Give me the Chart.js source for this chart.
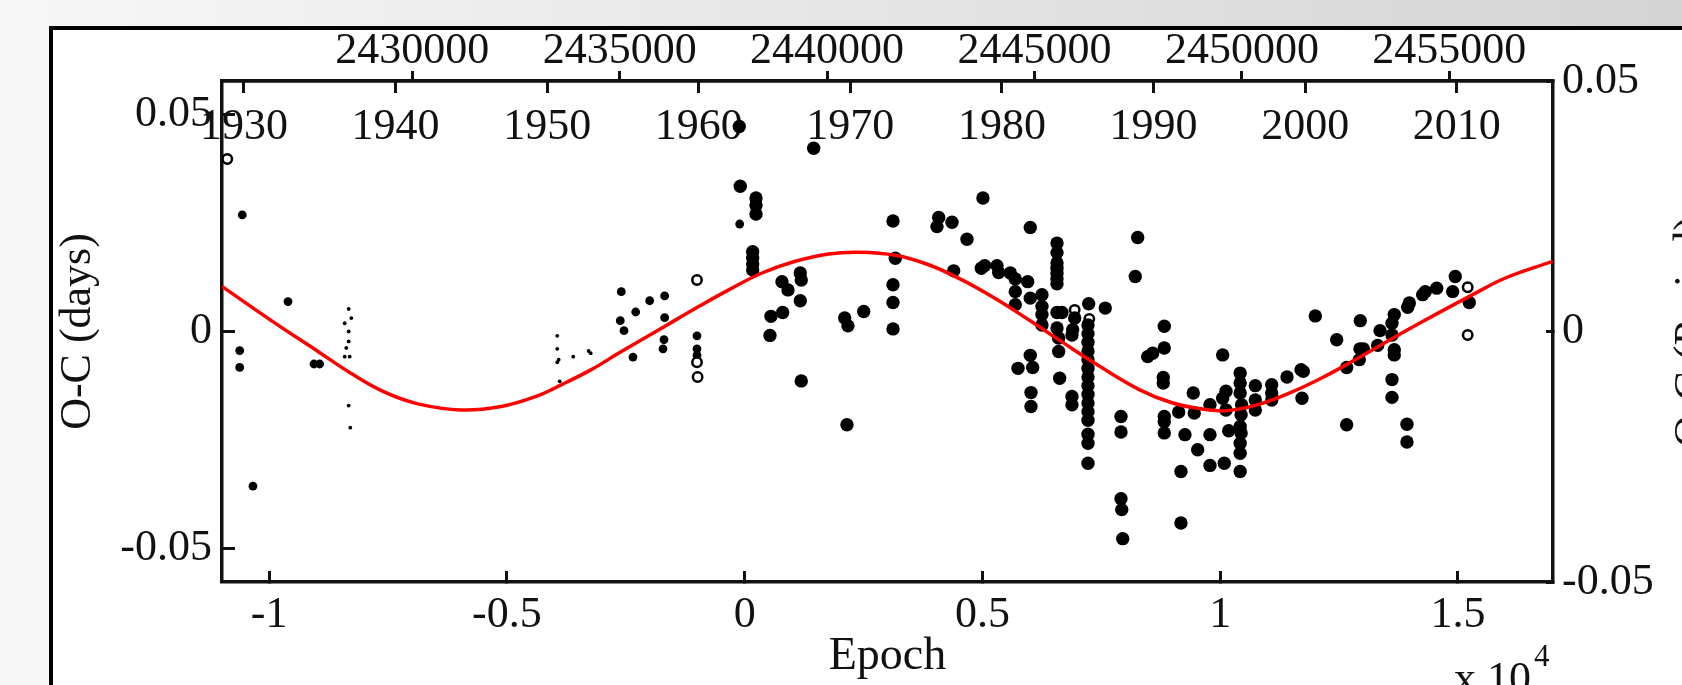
<!DOCTYPE html>
<html>
<head>
<meta charset="utf-8">
<title>O-C diagram</title>
<script src="https://cdn.jsdelivr.net/npm/chart.js@4.4.1/dist/chart.umd.min.js"></script>
<style>
  html, body { margin: 0; padding: 0; background: #fff; }
  #wrap { width: 1682px; height: 685px; }
</style>
</head>
<body>
<div id="wrap"><canvas id="ocChart" width="1682" height="685"></canvas></div>
<script>
// axis ticks
const epochTicks = [-10000, -5000, 0, 5000, 10000, 15000];
const epochTickLabels = ['-1', '-0.5', '0', '0.5', '1', '1.5'];
const ocTicks = [-0.05, 0, 0.05];
const ocTickLabels = ['-0.05', '0', '0.05'];
const yearTicks = [1930, 1940, 1950, 1960, 1970, 1980, 1990, 2000, 2010];
const jdTicks = [2430000, 2435000, 2440000, 2445000, 2450000, 2455000];

// minima, [epoch, O-C days]
const tinyDots = [
  [-8328, 0.0052], [-8273, 0.0031], [-8412, 0.0019], [-8328, 0.0000], [-8328, -0.0023],
  [-8378, -0.0038], [-8412, -0.0058], [-8307, -0.0058], [-8328, -0.0171], [-8294, -0.0222],
  [-3941, -0.0010], [-3941, -0.0040], [-3912, -0.0065], [-3941, -0.0071], [-3605, -0.0058],
  [-3281, -0.0045], [-3239, -0.0050], [-3891, -0.0115]
];

const smallDots = [
  [-10566, 0.0269], [-9604, 0.0069], [-10620, -0.0044], [-10620, -0.0083], [-10341, -0.0357],
  [-9058, -0.0075], [-8938, -0.0075],
  [-2595, 0.0092], [-2292, 0.0045], [-1998, 0.0071], [-1683, 0.0082], [-2616, 0.0025],
  [-2538, 0.0002], [-1683, 0.0032], [-2349, -0.0059], [-1697, -0.0019], [-1718, -0.0040],
  [-105, 0.0248], [-1003, -0.0010], [-1003, -0.0040], [-1003, -0.0055]
];

const openCircles = [
  [-10881, 0.0398], [-1003, 0.0119], [-1003, -0.0071], [-990, -0.0105],
  [6940, 0.0050], [7247, 0.0029], [15205, 0.0102], [15205, -0.0008]
];

const bigDots = [
  [-114, 0.0473], [1451, 0.0423], [-93, 0.0335],
  [238, 0.0308], [238, 0.0292], [238, 0.0271],
  [168, 0.0184], [168, 0.0170], [168, 0.0156], [168, 0.0142],
  [784, 0.0115], [911, 0.0096], [1169, 0.0135], [1190, 0.0119], [1169, 0.0071],
  [553, 0.0035], [799, 0.0044], [532, -0.0009],
  [2103, 0.0031], [2172, 0.0013], [2503, 0.0046],
  [3119, 0.0255], [3168, 0.0169], [3119, 0.0108], [3119, 0.0067], [3119, 0.0006],
  [4080, 0.0263], [4044, 0.0242], [4360, 0.0252], [4675, 0.0213],
  [5011, 0.0308], [4395, 0.0140], [6006, 0.0240],
  [4976, 0.0146], [5047, 0.0152], [5306, 0.0152], [5342, 0.0136], [5586, 0.0135],
  [5691, 0.0121], [5952, 0.0115],
  [5691, 0.0092], [5691, 0.0062], [6006, 0.0077],
  [6252, 0.0085], [6252, 0.0058], [6252, 0.0039], [6252, 0.0015],
  [6568, 0.0204], [6568, 0.0182], [6568, 0.0158], [6568, 0.0146], [6568, 0.0134],
  [6568, 0.0122], [6568, 0.0110],
  [6568, 0.0044], [6673, 0.0044], [6568, 0.0008],
  [6940, 0.0031], [7234, 0.0064], [7583, 0.0054],
  [7220, 0.0015], [7220, -0.0005], [7220, -0.0025], [7220, -0.0045], [7220, -0.0065],
  [7220, -0.0085], [7220, -0.0105], [7220, -0.0125], [7220, -0.0145], [7220, -0.0165],
  [7220, -0.0185], [7220, -0.0205], [7220, -0.0237], [7220, -0.0258], [7220, -0.0304],
  [6898, 0.0004], [6883, -0.0008], [6603, -0.0015], [6603, -0.0046], [6624, -0.0108],
  [6883, -0.0150], [6883, -0.0169],
  [6006, -0.0055], [6057, -0.0083], [5748, -0.0085], [6021, -0.0141], [6021, -0.0173],
  [1190, -0.0114], [2151, -0.0215],
  [8265, 0.0217], [8214, 0.0127], [8824, 0.0012],
  [12000, 0.0036], [12946, 0.0025], [12450, -0.0019], [13361, 0.0002], [13613, 0.0019],
  [13661, 0.0039], [13943, 0.0056], [13977, 0.0066], [14258, 0.0085], [14313, 0.0092],
  [14553, 0.0100], [14944, 0.0127], [14889, 0.0092], [15238, 0.0067],
  [8475, -0.0058], [8580, -0.0050], [8824, -0.0038], [10052, -0.0054],
  [8803, -0.0106], [8803, -0.0119],
  [7914, -0.0196], [7914, -0.0232], [7914, -0.0386], [7930, -0.0411], [7950, -0.0478],
  [8824, -0.0196], [8824, -0.0208], [8824, -0.0234],
  [9127, -0.0186], [9434, -0.0142], [9455, -0.0188], [9259, -0.0238], [9526, -0.0273],
  [9175, -0.0323], [9175, -0.0442],
  [9785, -0.0169], [9785, -0.0238], [9785, -0.0309], [10086, -0.0304],
  [10052, -0.0154], [10122, -0.0138], [10122, -0.0181], [10178, -0.0229],
  [10420, -0.0096], [10420, -0.0119], [10420, -0.0142], [10450, -0.0169], [10440, -0.0192],
  [10420, -0.0219], [10440, -0.0234], [10420, -0.0258], [10420, -0.0281], [10420, -0.0323],
  [10739, -0.0125], [10739, -0.0158], [10739, -0.0181],
  [11083, -0.0123], [11083, -0.0142], [11083, -0.0158],
  [11405, -0.0105], [11700, -0.0088], [11748, -0.0092], [11720, -0.0154],
  [12660, -0.0083], [12660, -0.0215],
  [12940, -0.0040], [13010, -0.0040], [12925, -0.0065], [13312, -0.0032],
  [13613, -0.0008], [13661, -0.0042], [13661, -0.0054], [13613, -0.0111], [13613, -0.0152],
  [13928, -0.0214], [13928, -0.0255]
];

// red model curve
const fitCurve = [
  [-10994, 0.0104], [-9884, 0.0020], [-8973, -0.0046], [-8273, -0.0097], [-7571, -0.0140],
  [-6871, -0.0167], [-5960, -0.0181], [-5119, -0.0173], [-4416, -0.0151], [-3857, -0.0123],
  [-3226, -0.0088], [-2664, -0.0051], [-2103, -0.0015], [-1649, 0.0014], [-1039, 0.0053],
  [-336, 0.0096], [364, 0.0135], [1064, 0.0162], [1767, 0.0179], [2397, 0.0183],
  [3167, 0.0176], [3870, 0.0154], [4570, 0.0119], [5270, 0.0076], [5973, 0.0027],
  [6673, -0.0024], [7373, -0.0074], [8297, -0.0134], [9001, -0.0165],
  [9701, -0.0180], [10122, -0.0183], [10753, -0.0170], [11453, -0.0142], [12155, -0.0106],
  [12856, -0.0064], [13556, -0.0020], [14258, 0.0023], [15310, 0.0085],
  [16010, 0.0124], [16993, 0.0162]
];

const ink = '#111111';
const toXY = arr => arr.map(p => ({ x: p[0], y: p[1] }));
const setTicks = vals => (scale) => { scale.ticks = vals.map(v => ({ value: v })); };

Chart.defaults.font.family = "'Liberation Serif', 'Times New Roman', serif";
Chart.defaults.font.size = 44;
Chart.defaults.color = ink;

// grey slide behind the white figure box
const slideFrame = {
  id: 'slideFrame',
  beforeDraw(chart) {
    const { ctx, width, height } = chart;
    ctx.save();
    const g = ctx.createLinearGradient(0, 0, width, 0);
    g.addColorStop(0, '#f7f7f7');
    g.addColorStop(1, '#d4d4d4');
    ctx.fillStyle = g;
    ctx.fillRect(0, 0, width, height);
    ctx.fillStyle = '#ffffff';
    ctx.fillRect(51, 28, width - 51, height - 28);
    ctx.strokeStyle = '#000';
    ctx.lineWidth = 4;
    ctx.beginPath();
    ctx.moveTo(51, height);
    ctx.lineTo(51, 28);
    ctx.lineTo(width, 28);
    ctx.stroke();
    ctx.restore();
  }
};

// multiplier under the x axis and the cut-off right axis title
const extraText = {
  id: 'extraText',
  afterDraw(chart) {
    const { ctx, chartArea } = chart;
    ctx.save();
    ctx.fillStyle = ink;
    ctx.textBaseline = 'alphabetic';
    ctx.textAlign = 'left';
    ctx.font = "44px 'Liberation Serif', serif";
    ctx.fillText('x 10', 1454, 692);
    ctx.font = "31px 'Liberation Serif', serif";
    ctx.fillText('4', 1534, 666);

    ctx.font = "44px 'Liberation Serif', serif";
    ctx.translate(1704, (chartArea.top + chartArea.bottom) / 2);
    ctx.rotate(-Math.PI / 2);
    ctx.textAlign = 'center';
    ctx.fillText('O-C (Period)', 0, 0);
    ctx.restore();
  }
};

const tickGrid = len => ({ drawOnChartArea: false, tickLength: len, tickWidth: 3, tickColor: ink });
const frameBorder = { width: 3.5, color: ink };

new Chart(document.getElementById('ocChart'), {
  type: 'scatter',
  data: {
    datasets: [
      {
        label: 'fit',
        data: toXY(fitCurve),
        showLine: true,
        borderColor: '#ff0000',
        borderWidth: 3.5,
        pointRadius: 0,
        fill: false,
        tension: 0.4,
        order: 0
      },
      {
        label: 'CCD',
        data: toXY(bigDots),
        pointRadius: 6.7,
        backgroundColor: '#000',
        borderWidth: 0,
        order: 1
      },
      {
        label: 'open',
        data: toXY(openCircles),
        pointRadius: 4.7,
        backgroundColor: '#fff',
        borderColor: '#000',
        borderWidth: 2.5,
        order: 2
      },
      {
        label: 'visual',
        data: toXY(smallDots),
        pointRadius: 4.4,
        backgroundColor: '#000',
        borderWidth: 0,
        order: 3
      },
      {
        label: 'photographic',
        data: toXY(tinyDots),
        pointRadius: 1.9,
        backgroundColor: '#000',
        borderWidth: 0,
        order: 4
      }
    ]
  },
  options: {
    responsive: false,
    devicePixelRatio: 1,
    animation: false,
    events: [],
    layout: { padding: 0 },
    plugins: {
      legend: { display: false },
      tooltip: { enabled: false }
    },
    scales: {
      x: {
        type: 'linear',
        position: 'bottom',
        min: -10992,
        max: 16999,
        afterBuildTicks: setTicks(epochTicks),
        afterFit: s => { s.height = 103; },
        ticks: {
          padding: 17.6, maxRotation: 0, minRotation: 0, autoSkip: false,
          callback: v => epochTickLabels[epochTicks.indexOf(v)]
        },
        grid: tickGrid(-11),
        border: frameBorder,
        title: { display: true, text: 'Epoch', font: { size: 46 }, padding: { top: 0, bottom: 0 } }
      },
      y: {
        type: 'linear',
        position: 'left',
        min: -0.0578,
        max: 0.0578,
        afterBuildTicks: setTicks(ocTicks),
        afterFit: s => { s.width = 222; },
        ticks: { padding: 23, autoSkip: false, callback: v => ocTickLabels[ocTicks.indexOf(v)] },
        grid: tickGrid(-13),
        border: frameBorder,
        title: { display: true, text: 'O-C (days)', font: { size: 44 }, padding: { top: 52, bottom: 0 } }
      },
      y2: {
        type: 'linear',
        position: 'right',
        min: -0.05,
        max: 0.05,
        afterBuildTicks: setTicks(ocTicks),
        afterFit: s => { s.width = 129; },
        ticks: { padding: 16, autoSkip: false, callback: v => ocTickLabels[ocTicks.indexOf(v)] },
        grid: tickGrid(-7),
        border: frameBorder
      },
      xYear: {
        type: 'linear',
        position: 'top',
        weight: 1,
        min: 1928.549,
        max: 2016.35,
        afterBuildTicks: setTicks(yearTicks),
        afterFit: s => { s.height = 0; },
        ticks: {
          mirror: true, padding: 20, maxRotation: 0, minRotation: 0, autoSkip: false,
          callback: v => String(v)
        },
        grid: tickGrid(-12),
        border: frameBorder
      },
      xJD: {
        type: 'linear',
        position: 'top',
        weight: 2,
        min: 2425412,
        max: 2457500,
        afterBuildTicks: setTicks(jdTicks),
        afterFit: s => { s.height = 81; },
        ticks: {
          padding: -6.4, maxRotation: 0, minRotation: 0, autoSkip: false,
          callback: v => String(v)
        },
        grid: tickGrid(10),
        border: frameBorder
      }
    }
  },
  plugins: [slideFrame, extraText]
});
</script>
</body>
</html>
